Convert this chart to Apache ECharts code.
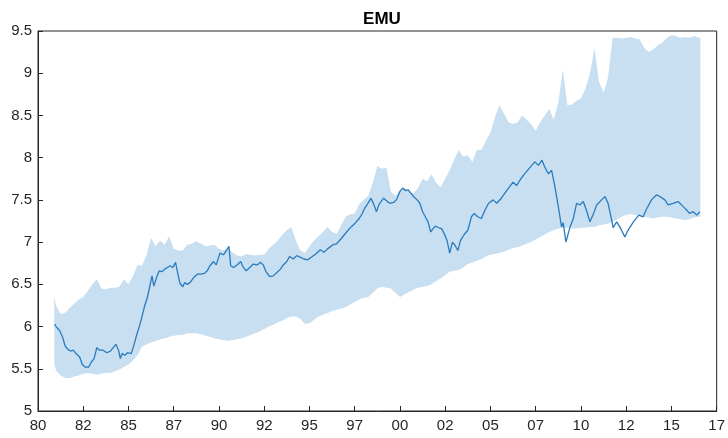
<!DOCTYPE html>
<html>
<head>
<meta charset="utf-8">
<script src="https://cdn.jsdelivr.net/npm/echarts@6/dist/echarts.min.js"></script>
<style>
html,body{margin:0;padding:0;background:#fff;}
#chart{width:728px;height:438px;}
</style>
</head>
<body>
<div id="chart"></div>
<script>
// Tick labels
var xTickLabels = ['80','82','85','87','90','92','95','97','00','02','05','07','10','12','15','17'];
var yTicks = [5, 5.5, 6, 6.5, 7, 7.5, 8, 8.5, 9, 9.5];

// Band (shared x positions)
var bandYears = [1980.9,1981.0,1981.25,1981.5,1981.75,1982.0,1982.25,1982.5,1982.75,1983.0,1983.25,1983.5,1983.75,1984.0,1984.25,1984.5,1984.75,1985.0,1985.25,1985.5,1985.75,1986.0,1986.25,1986.5,1986.75,1987.0,1987.25,1987.5,1987.75,1988.0,1988.25,1988.5,1988.75,1989.0,1989.25,1989.5,1989.75,1990.0,1990.25,1990.5,1990.75,1991.0,1991.25,1991.5,1991.75,1992.0,1992.25,1992.5,1992.75,1993.0,1993.25,1993.5,1993.75,1994.0,1994.25,1994.5,1994.75,1995.0,1995.25,1995.5,1995.75,1996.0,1996.25,1996.5,1996.75,1997.0,1997.25,1997.5,1997.75,1998.0,1998.25,1998.5,1998.75,1999.0,1999.25,1999.5,1999.75,2000.0,2000.25,2000.5,2000.75,2001.0,2001.25,2001.5,2001.75,2002.0,2002.25,2002.5,2002.75,2003.0,2003.25,2003.5,2003.75,2004.0,2004.25,2004.5,2004.75,2005.0,2005.25,2005.5,2005.75,2006.0,2006.25,2006.5,2006.75,2007.0,2007.25,2007.5,2007.75,2008.0,2008.25,2008.5,2008.75,2009.0,2009.25,2009.5,2009.75,2010.0,2010.25,2010.5,2010.75,2011.0,2011.25,2011.5,2011.75,2012.0,2012.25,2012.5,2012.75,2013.0,2013.25,2013.5,2013.75,2014.0,2014.25,2014.5,2014.75,2015.0,2015.25,2015.5,2015.75,2016.0,2016.25,2016.5,2016.6];
var upper = [6.36,6.25,6.15,6.16,6.22,6.27,6.32,6.35,6.42,6.5,6.56,6.45,6.44,6.46,6.46,6.47,6.56,6.5,6.6,6.73,6.72,6.85,7.05,6.95,7.02,6.97,7.07,6.92,6.9,6.9,6.97,6.98,7.01,6.98,6.95,6.96,6.97,6.92,6.9,6.92,6.88,6.84,6.83,6.86,6.85,6.84,6.85,6.85,6.92,6.97,7.02,7.09,7.14,7.18,7.02,6.9,6.87,6.95,7.02,7.07,7.12,7.18,7.12,7.1,7.2,7.3,7.33,7.34,7.45,7.5,7.55,7.7,7.9,7.87,7.88,7.6,7.55,7.62,7.64,7.6,7.58,7.64,7.75,7.72,7.8,7.7,7.65,7.75,7.85,7.98,8.09,8.01,8.03,7.95,8.09,8.09,8.2,8.3,8.48,8.62,8.52,8.42,8.4,8.42,8.5,8.45,8.4,8.32,8.42,8.5,8.58,8.45,8.65,9.04,8.62,8.63,8.67,8.7,8.82,9.0,9.3,8.9,8.77,8.95,9.42,9.42,9.41,9.42,9.43,9.41,9.4,9.3,9.25,9.28,9.33,9.36,9.42,9.45,9.44,9.42,9.43,9.42,9.44,9.42,9.42];
var lower = [5.55,5.48,5.42,5.39,5.39,5.41,5.42,5.44,5.45,5.44,5.43,5.44,5.45,5.45,5.47,5.49,5.52,5.55,5.6,5.66,5.76,5.79,5.81,5.83,5.85,5.86,5.88,5.89,5.9,5.9,5.92,5.92,5.92,5.91,5.89,5.88,5.86,5.85,5.84,5.83,5.84,5.85,5.86,5.88,5.9,5.92,5.94,5.97,6.0,6.02,6.05,6.07,6.1,6.12,6.12,6.09,6.03,6.04,6.08,6.12,6.14,6.16,6.18,6.2,6.21,6.23,6.26,6.29,6.32,6.34,6.35,6.4,6.45,6.47,6.46,6.45,6.4,6.35,6.38,6.41,6.44,6.46,6.47,6.48,6.5,6.54,6.57,6.61,6.65,6.66,6.67,6.7,6.74,6.76,6.78,6.8,6.83,6.85,6.86,6.87,6.89,6.91,6.93,6.94,6.96,6.98,7.0,7.03,7.06,7.09,7.12,7.14,7.16,7.17,7.17,7.16,7.16,7.17,7.17,7.18,7.18,7.2,7.21,7.22,7.24,7.27,7.3,7.32,7.33,7.32,7.31,7.3,7.29,7.28,7.29,7.3,7.3,7.29,7.28,7.27,7.26,7.27,7.29,7.3,7.3];

// Central line
var midYears = [1980.92,1981.0,1981.2,1981.35,1981.5,1981.65,1981.8,1981.95,1982.1,1982.3,1982.45,1982.6,1982.8,1982.95,1983.1,1983.25,1983.4,1983.6,1983.8,1984.0,1984.15,1984.3,1984.45,1984.55,1984.65,1984.8,1984.95,1985.15,1985.3,1985.45,1985.6,1985.75,1985.9,1986.05,1986.2,1986.3,1986.4,1986.55,1986.7,1986.85,1987.0,1987.15,1987.3,1987.45,1987.6,1987.75,1987.85,1988.0,1988.1,1988.25,1988.4,1988.6,1988.8,1989.0,1989.2,1989.35,1989.5,1989.7,1989.85,1990.05,1990.25,1990.4,1990.55,1990.65,1990.8,1991.0,1991.2,1991.35,1991.5,1991.7,1991.9,1992.1,1992.3,1992.45,1992.6,1992.8,1993.0,1993.2,1993.4,1993.55,1993.75,1993.9,1994.1,1994.3,1994.5,1994.7,1994.9,1995.1,1995.35,1995.6,1995.8,1996.0,1996.3,1996.5,1996.75,1997.05,1997.3,1997.55,1997.75,1997.9,1998.05,1998.2,1998.4,1998.55,1998.7,1998.85,1999.1,1999.3,1999.45,1999.65,1999.8,2000.0,2000.15,2000.3,2000.45,2000.6,2000.75,2000.95,2001.1,2001.25,2001.4,2001.55,2001.7,2001.8,2001.95,2002.15,2002.3,2002.45,2002.6,2002.75,2002.9,2003.05,2003.2,2003.35,2003.55,2003.75,2003.95,2004.1,2004.3,2004.5,2004.7,2004.9,2005.15,2005.35,2005.6,2005.8,2006.0,2006.25,2006.45,2006.65,2006.85,2007.05,2007.25,2007.45,2007.65,2007.85,2008.0,2008.2,2008.38,2008.56,2008.75,2008.93,2009.02,2009.17,2009.4,2009.58,2009.76,2009.94,2010.13,2010.3,2010.5,2010.7,2010.87,2011.14,2011.33,2011.5,2011.7,2011.78,2011.97,2012.15,2012.43,2012.6,2012.9,2013.2,2013.44,2013.6,2013.9,2014.18,2014.36,2014.64,2014.82,2015.1,2015.37,2015.65,2015.84,2016.0,2016.2,2016.4,2016.57];
var mid = [6.03,6.0,5.95,5.88,5.77,5.73,5.71,5.72,5.68,5.64,5.55,5.52,5.52,5.58,5.62,5.75,5.72,5.72,5.69,5.71,5.75,5.79,5.72,5.62,5.68,5.66,5.69,5.68,5.78,5.9,6.0,6.12,6.25,6.35,6.5,6.6,6.48,6.58,6.66,6.65,6.68,6.7,6.72,6.7,6.76,6.6,6.51,6.47,6.52,6.5,6.52,6.58,6.62,6.62,6.63,6.66,6.72,6.77,6.73,6.87,6.85,6.9,6.95,6.72,6.7,6.73,6.77,6.7,6.66,6.7,6.74,6.73,6.76,6.73,6.65,6.59,6.6,6.64,6.68,6.73,6.77,6.83,6.8,6.84,6.82,6.8,6.79,6.82,6.86,6.91,6.88,6.92,6.97,6.98,7.04,7.12,7.18,7.23,7.28,7.33,7.4,7.45,7.52,7.45,7.36,7.45,7.52,7.48,7.46,7.47,7.5,7.6,7.64,7.61,7.62,7.58,7.54,7.5,7.46,7.36,7.3,7.24,7.12,7.15,7.19,7.17,7.16,7.1,7.02,6.87,7.0,6.96,6.9,7.02,7.09,7.14,7.3,7.34,7.3,7.28,7.38,7.46,7.5,7.46,7.52,7.58,7.64,7.71,7.67,7.74,7.8,7.85,7.9,7.95,7.91,7.97,7.89,7.81,7.85,7.66,7.42,7.18,7.23,7.0,7.18,7.28,7.46,7.44,7.48,7.38,7.24,7.34,7.44,7.5,7.54,7.46,7.26,7.17,7.24,7.18,7.06,7.14,7.24,7.32,7.3,7.38,7.5,7.56,7.54,7.5,7.44,7.46,7.48,7.42,7.38,7.34,7.36,7.32,7.36];

var bandData = bandYears.map(function(y,i){return [y, lower[i], upper[i]];});
var midData = midYears.map(function(y,i){return [y, mid[i]];});

var axisColor = '#262626';
var fontFam = '"Liberation Sans", Arial, Helvetica, sans-serif';

function renderBand(params, api) {
  if (params.dataIndex !== 0) return;
  var pts = [];
  for (var i = 0; i < bandData.length; i++) pts.push(api.coord([bandData[i][0], bandData[i][2]]));
  for (var j = bandData.length - 1; j >= 0; j--) pts.push(api.coord([bandData[j][0], bandData[j][1]]));
  return {type: 'polygon', shape: {points: pts}, style: {fill: '#c7dff1', stroke: 'none'}};
}

var chart = echarts.init(document.getElementById('chart'), null, {renderer:'canvas'});
chart.setOption({
  animation: false,
  backgroundColor: '#ffffff',
  title: {
    text: 'EMU',
    left: 377, top: 6, textAlign: 'center',
    textStyle: {fontFamily: fontFam, fontSize: 17, fontWeight: 'bold', color: '#000'}
  },
  grid: {left: 38, right: 11, top: 31, bottom: 27, show: true, borderColor: axisColor, borderWidth: 1, backgroundColor: 'transparent'},
  xAxis: {
    type: 'value', min: 1980, max: 2017.5, interval: 2.5, z: 10,
    axisLine: {show: true, lineStyle: {color: axisColor, width: 1}},
    axisTick: {show: true, inside: true, length: 5, lineStyle: {color: axisColor}},
    splitLine: {show: false},
    axisLabel: {
      margin: 7, color: axisColor, fontSize: 15, fontFamily: fontFam,
      formatter: function(v){ var i = Math.round((v-1980)/2.5); return xTickLabels[i] || ''; }
    }
  },
  yAxis: {
    type: 'value', min: 5, max: 9.5, interval: 0.5, z: 10,
    axisLine: {show: true, lineStyle: {color: axisColor, width: 1}},
    axisTick: {show: true, inside: true, length: 5, lineStyle: {color: axisColor}},
    splitLine: {show: false},
    axisLabel: {
      margin: 6, color: axisColor, fontSize: 15, fontFamily: fontFam,
      formatter: function(v){ return String(v); }
    }
  },
  series: [
    {type: 'custom', renderItem: renderBand, data: bandData, encode: {x: 0, y: [1, 2]}, silent: true, z: 1},
    {type: 'line', data: midData, symbol: 'none', lineStyle: {color: '#2a7bbd', width: 1.3}, z: 5}
  ]
});
</script>
</body>
</html>
